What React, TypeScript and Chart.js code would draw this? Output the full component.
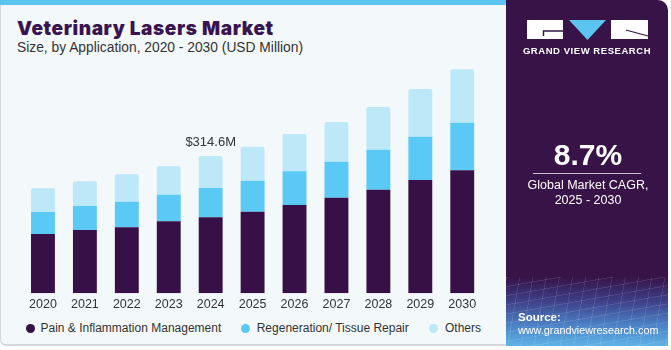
import React, { useEffect, useRef } from "react";
import { Chart, registerables } from "chart.js";

Chart.register(...registerables);

const years = ["2020", "2021", "2022", "2023", "2024", "2025", "2026", "2027", "2028", "2029", "2030"];
const pain = [135.9, 145.0, 151.2, 165.0, 174.1, 187.0, 202.3, 219.0, 237.4, 259.6, 281.8];
const regen = [50.4, 55.0, 58.7, 60.9, 67.1, 71.0, 77.2, 82.5, 91.6, 99.2, 109.0];
const others = [54.3, 56.6, 62.8, 65.1, 73.4, 77.9, 85.5, 91.0, 97.8, 109.3, 122.3];
const seriesNames = ["Pain & Inflammation Management", "Regeneration/ Tissue Repair", "Others"];
const seriesColors = ["#371047", "#5bc9f6", "#bde8f8"];
const labelIndex = 4;
const labelText = "$314.6M";

const BODY_FONT = "'Liberation Sans', Arial, sans-serif";

export default function App() {
  const canvasRef = useRef<HTMLCanvasElement | null>(null);

  useEffect(() => {
    const canvas = canvasRef.current;
    if (!canvas) return;
    const labelPlugin = {
      id: "valueLabel",
      afterDatasetsDraw(chart: any) {
        const meta = chart.getDatasetMeta(2);
        const el = meta.data[labelIndex];
        if (!el) return;
        const ctx = chart.ctx;
        ctx.save();
        ctx.font = `13px ${BODY_FONT}`;
        ctx.fillStyle = "#333333";
        ctx.textAlign = "center";
        ctx.textBaseline = "alphabetic";
        ctx.fillText(labelText, el.x, el.y - 10);
        ctx.restore();
      },
    };
    const chart = new Chart(canvas, {
      type: "bar",
      data: {
        labels: years,
        datasets: [
          { label: seriesNames[0], data: pain, backgroundColor: seriesColors[0], barPercentage: 0.57, categoryPercentage: 1 },
          { label: seriesNames[1], data: regen, backgroundColor: seriesColors[1], barPercentage: 0.57, categoryPercentage: 1 },
          {
            label: seriesNames[2],
            data: others,
            backgroundColor: seriesColors[2],
            barPercentage: 0.57,
            categoryPercentage: 1,
            borderRadius: { topLeft: 2, topRight: 2, bottomLeft: 0, bottomRight: 0 },
            borderSkipped: false,
          },
        ],
      },
      options: {
        responsive: false,
        animation: false,
        devicePixelRatio: 1,
        layout: { padding: { left: 22, right: 22.8, top: 60, bottom: 3.7 } },
        plugins: { legend: { display: false }, tooltip: { enabled: false } },
        scales: {
          x: {
            stacked: true,
            grid: { display: false, drawTicks: false },
            border: { display: false },
            ticks: { color: "#333333", font: { family: BODY_FONT, size: 12.5 }, padding: 4, maxRotation: 0 },
          },
          y: { stacked: true, display: false, min: 0, max: 534.5 },
        },
      },
      plugins: [labelPlugin],
    });
    return () => chart.destroy();
  }, []);

  const legendItems = [
    { dot: 30, text: 40.5 },
    { dot: 245.3, text: 256.7 },
    { dot: 433.3, text: 445 },
  ];

  return (
    <div style={{ position: "fixed", left: 0, top: 0, width: 671, height: 350, background: "#ffffff", overflow: "hidden", fontFamily: BODY_FONT }}>
      {/* left panel */}
      <div style={{ position: "absolute", left: 0, top: 0, width: 506, height: 346, background: "#f3f8fb", borderLeft: "1px solid #d4d8dc", borderBottom: "2px solid #d4d8dc", borderBottomLeftRadius: 6, boxSizing: "border-box" }} />
      <div style={{ position: "absolute", left: 0, top: 0, width: 506, height: 5, background: "#5bc4ef" }} />
      <div style={{ position: "absolute", left: 17, top: 17, fontFamily: "Inter, sans-serif", fontWeight: 900, fontSize: 19, letterSpacing: 0.6, color: "#3a1450", whiteSpace: "nowrap", lineHeight: "24px" }}>
        Veterinary Lasers Market
      </div>
      <div style={{ position: "absolute", left: 17, top: 40, fontSize: 13.8, color: "#333333", whiteSpace: "nowrap", lineHeight: "16px" }}>
        Size, by Application, 2020 - 2030 (USD Million)
      </div>
      <canvas ref={canvasRef} width={506} height={320} style={{ position: "absolute", left: 0, top: 0, width: 506, height: 320 }} />
      {legendItems.map((it, i) => (
        <React.Fragment key={i}>
          <div style={{ position: "absolute", left: it.dot - 4.5, top: 328.3 - 4.5, width: 9, height: 9, borderRadius: "50%", background: seriesColors[i] }} />
          <div style={{ position: "absolute", left: it.text, top: 320, fontSize: 12, lineHeight: "16px", color: "#333333", whiteSpace: "nowrap" }}>
            {seriesNames[i]}
          </div>
        </React.Fragment>
      ))}

      {/* right panel */}
      <div style={{ position: "absolute", left: 506, top: 0, width: 162, height: 346, background: "#371347", borderTopRightRadius: 10, overflow: "hidden" }}>
        <div style={{
          position: "absolute", left: 0, top: 277, width: 162, height: 69,
          background: "repeating-linear-gradient(100deg, rgba(255,255,255,0.10) 0 1px, transparent 1px 13px), repeating-linear-gradient(170deg, rgba(255,255,255,0.10) 0 1px, transparent 1px 9px), linear-gradient(180deg, #371347 0%, #3e3f88 35%, #4b82c6 70%, #5fb2e6 100%)",
        }} />
      </div>
      <svg style={{ position: "absolute", left: 0, top: 0 }} width={671} height={350}>
        <rect x={527} y={20} width={36} height={19} fill="#ffffff" />
        <path d="M543.5 36 L543.5 31 L563 31" stroke="#371347" strokeWidth={1.4} fill="none" />
        <polygon points="569,20 606,20 587.5,40" fill="#5bc4ef" />
        <rect x={611} y={20} width={37} height={19} fill="#ffffff" />
        <path d="M626 30 L648 36" stroke="#371347" strokeWidth={1.2} fill="none" />
      </svg>
      <div style={{ position: "absolute", left: 506, top: 45, width: 162, textAlign: "center", color: "#ffffff", fontWeight: 700, fontSize: 9.5, letterSpacing: 0.55, lineHeight: "12px", whiteSpace: "nowrap" }}>
        GRAND VIEW RESEARCH
      </div>
      <div style={{ position: "absolute", left: 506, top: 138, width: 164, textAlign: "center", color: "#ffffff", fontWeight: 700, fontSize: 30, lineHeight: "34px", whiteSpace: "nowrap" }}>
        8.7%
      </div>
      <div style={{ position: "absolute", left: 533, top: 173, width: 108, height: 1, background: "#c9bfd0" }} />
      <div style={{ position: "absolute", left: 506, top: 178, width: 164, textAlign: "center", color: "#ffffff", fontSize: 12.5, lineHeight: "15px", whiteSpace: "nowrap" }}>
        Global Market CAGR,<br />2025 - 2030
      </div>
      <div style={{ position: "absolute", left: 518, top: 310, color: "#ffffff", fontWeight: 700, fontSize: 11.5, lineHeight: "14px", whiteSpace: "nowrap" }}>
        Source:
      </div>
      <div style={{ position: "absolute", left: 518, top: 323, color: "#ffffff", fontSize: 10.8, lineHeight: "14px", whiteSpace: "nowrap" }}>
        www.grandviewresearch.com
      </div>
    </div>
  );
}
